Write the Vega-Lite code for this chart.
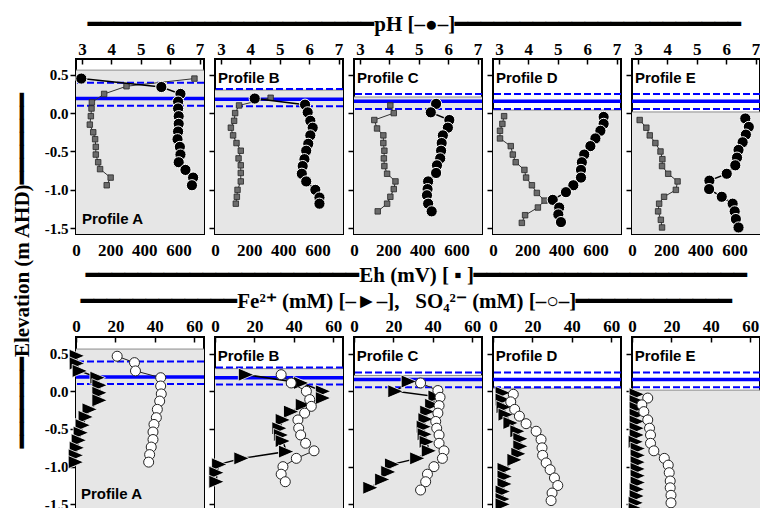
{
"$schema": "https://vega.github.io/schema/vega-lite/v6.json",
"background": "white",
"padding": {"left": 12, "top": 14, "right": 0, "bottom": 0},
"title": {"text": "━━━━━━━Elevation (m AHD)━━━━━━━", "orient": "left", "offset": 10, "dx": 70},
"config": {
  "view": {"stroke": "black", "strokeWidth": 2},
  "axis": {"domain": false, "grid": false, "tickColor": "black", "tickWidth": 1.5, "labelFont": "Liberation Serif", "labelFontWeight": "bold", "labelColor": "black", "labelFlush": false, "labelOverlap": false, "zindex": 1},
  "axisX": {"tickSize": -5, "labelFontSize": 17},
  "axisY": {"tickSize": 6, "labelFontSize": 15, "labelPadding": 2},
  "title": {"font": "Liberation Serif", "fontSize": 21, "fontWeight": "bold", "color": "black"},
  "concat": {"spacing": 11}
},
"datasets": {
  "wt": [
    {"p":"A","gs":0.56,"wt":0.19,"hi":0.395,"lo":0.095,"lab":"Profile A"},
    {"p":"B","gs":0.30,"wt":0.18,"hi":0.315,"lo":0.09,"lab":"Profile B"},
    {"p":"C","gs":0.21,"wt":0.155,"hi":0.25,"lo":0.055,"lab":"Profile C"},
    {"p":"D","gs":0.04,"wt":0.155,"hi":0.25,"lo":0.055,"lab":"Profile D"},
    {"p":"E","gs":0.015,"wt":0.155,"hi":0.25,"lo":0.055,"lab":"Profile E"}
  ],
  "top": [
    {"p":"A","v":"pH","e":0.45,"x":2.98},{"p":"A","v":"pH","e":0.34,"x":5.70},{"p":"A","v":"pH","e":0.25,"x":6.35},{"p":"A","v":"pH","e":0.15,"x":6.27},{"p":"A","v":"pH","e":0.06,"x":6.27},{"p":"A","v":"pH","e":-0.04,"x":6.29},{"p":"A","v":"pH","e":-0.14,"x":6.29},{"p":"A","v":"pH","e":-0.24,"x":6.27},{"p":"A","v":"pH","e":-0.34,"x":6.25},{"p":"A","v":"pH","e":-0.44,"x":6.33},{"p":"A","v":"pH","e":-0.54,"x":6.35},{"p":"A","v":"pH","e":-0.64,"x":6.29},{"p":"A","v":"pH","e":-0.74,"x":6.52},{"p":"A","v":"pH","e":-0.84,"x":6.78},{"p":"A","v":"pH","e":-0.94,"x":6.74},
    {"p":"A","v":"Eh","e":0.45,"x":694},{"p":"A","v":"Eh","e":0.35,"x":296},{"p":"A","v":"Eh","e":0.25,"x":165},{"p":"A","v":"Eh","e":0.14,"x":93},{"p":"A","v":"Eh","e":0.06,"x":91},{"p":"A","v":"Eh","e":-0.04,"x":87},{"p":"A","v":"Eh","e":-0.15,"x":81},{"p":"A","v":"Eh","e":-0.25,"x":101},{"p":"A","v":"Eh","e":-0.34,"x":112},{"p":"A","v":"Eh","e":-0.44,"x":116},{"p":"A","v":"Eh","e":-0.54,"x":116},{"p":"A","v":"Eh","e":-0.64,"x":130},{"p":"A","v":"Eh","e":-0.73,"x":141},{"p":"A","v":"Eh","e":-0.84,"x":203},{"p":"A","v":"Eh","e":-0.94,"x":180},
    {"p":"B","v":"pH","e":0.19,"x":4.15},{"p":"B","v":"pH","e":0.11,"x":5.86},{"p":"B","v":"pH","e":0.01,"x":5.95},{"p":"B","v":"pH","e":-0.10,"x":6.04},{"p":"B","v":"pH","e":-0.19,"x":6.12},{"p":"B","v":"pH","e":-0.29,"x":6.04},{"p":"B","v":"pH","e":-0.40,"x":5.97},{"p":"B","v":"pH","e":-0.49,"x":5.90},{"p":"B","v":"pH","e":-0.60,"x":5.84},{"p":"B","v":"pH","e":-0.69,"x":5.78},{"p":"B","v":"pH","e":-0.79,"x":5.75},{"p":"B","v":"pH","e":-0.89,"x":5.90},{"p":"B","v":"pH","e":-1.00,"x":6.21},{"p":"B","v":"pH","e":-1.10,"x":6.35},{"p":"B","v":"pH","e":-1.18,"x":6.35},
    {"p":"B","v":"Eh","e":0.20,"x":326},{"p":"B","v":"Eh","e":0.10,"x":141},{"p":"B","v":"Eh","e":0.00,"x":118},{"p":"B","v":"Eh","e":-0.10,"x":112},{"p":"B","v":"Eh","e":-0.19,"x":93},{"p":"B","v":"Eh","e":-0.29,"x":106},{"p":"B","v":"Eh","e":-0.39,"x":126},{"p":"B","v":"Eh","e":-0.49,"x":151},{"p":"B","v":"Eh","e":-0.59,"x":138},{"p":"B","v":"Eh","e":-0.68,"x":151},{"p":"B","v":"Eh","e":-0.78,"x":151},{"p":"B","v":"Eh","e":-0.89,"x":151},{"p":"B","v":"Eh","e":-1.00,"x":132},{"p":"B","v":"Eh","e":-1.09,"x":128},{"p":"B","v":"Eh","e":-1.18,"x":122},
    {"p":"C","v":"pH","e":0.12,"x":5.59},{"p":"C","v":"pH","e":0.01,"x":5.41},{"p":"C","v":"pH","e":-0.09,"x":6.04},{"p":"C","v":"pH","e":-0.19,"x":5.99},{"p":"C","v":"pH","e":-0.29,"x":5.82},{"p":"C","v":"pH","e":-0.39,"x":5.78},{"p":"C","v":"pH","e":-0.49,"x":5.76},{"p":"C","v":"pH","e":-0.59,"x":5.73},{"p":"C","v":"pH","e":-0.68,"x":5.62},{"p":"C","v":"pH","e":-0.78,"x":5.59},{"p":"C","v":"pH","e":-0.89,"x":5.32},{"p":"C","v":"pH","e":-0.99,"x":5.30},{"p":"C","v":"pH","e":-1.07,"x":5.28},{"p":"C","v":"pH","e":-1.18,"x":5.32},{"p":"C","v":"pH","e":-1.28,"x":5.44},
    {"p":"C","v":"Eh","e":0.10,"x":213},{"p":"C","v":"Eh","e":0.00,"x":233},{"p":"C","v":"Eh","e":-0.09,"x":119},{"p":"C","v":"Eh","e":-0.20,"x":135},{"p":"C","v":"Eh","e":-0.29,"x":172},{"p":"C","v":"Eh","e":-0.39,"x":172},{"p":"C","v":"Eh","e":-0.49,"x":178},{"p":"C","v":"Eh","e":-0.59,"x":175},{"p":"C","v":"Eh","e":-0.69,"x":178},{"p":"C","v":"Eh","e":-0.79,"x":194},{"p":"C","v":"Eh","e":-0.89,"x":243},{"p":"C","v":"Eh","e":-0.99,"x":233},{"p":"C","v":"Eh","e":-1.09,"x":213},{"p":"C","v":"Eh","e":-1.18,"x":194},{"p":"C","v":"Eh","e":-1.28,"x":139},
    {"p":"D","v":"pH","e":-0.05,"x":6.56},{"p":"D","v":"pH","e":-0.14,"x":6.56},{"p":"D","v":"pH","e":-0.23,"x":6.45},{"p":"D","v":"pH","e":-0.33,"x":6.28},{"p":"D","v":"pH","e":-0.43,"x":6.11},{"p":"D","v":"pH","e":-0.54,"x":5.90},{"p":"D","v":"pH","e":-0.64,"x":5.82},{"p":"D","v":"pH","e":-0.74,"x":5.79},{"p":"D","v":"pH","e":-0.84,"x":5.79},{"p":"D","v":"pH","e":-0.94,"x":5.53},{"p":"D","v":"pH","e":-1.03,"x":5.28},{"p":"D","v":"pH","e":-1.13,"x":4.83},{"p":"D","v":"pH","e":-1.23,"x":5.05},{"p":"D","v":"pH","e":-1.32,"x":5.02},{"p":"D","v":"pH","e":-1.42,"x":5.11},
    {"p":"D","v":"Eh","e":-0.04,"x":65},{"p":"D","v":"Eh","e":-0.14,"x":55},{"p":"D","v":"Eh","e":-0.23,"x":41},{"p":"D","v":"Eh","e":-0.33,"x":41},{"p":"D","v":"Eh","e":-0.43,"x":104},{"p":"D","v":"Eh","e":-0.54,"x":116},{"p":"D","v":"Eh","e":-0.64,"x":133},{"p":"D","v":"Eh","e":-0.74,"x":184},{"p":"D","v":"Eh","e":-0.84,"x":194},{"p":"D","v":"Eh","e":-0.94,"x":228},{"p":"D","v":"Eh","e":-1.04,"x":257},{"p":"D","v":"Eh","e":-1.14,"x":302},{"p":"D","v":"Eh","e":-1.23,"x":263},{"p":"D","v":"Eh","e":-1.33,"x":188},{"p":"D","v":"Eh","e":-1.43,"x":169},
    {"p":"E","v":"pH","e":-0.07,"x":6.65},{"p":"E","v":"pH","e":-0.18,"x":6.77},{"p":"E","v":"pH","e":-0.28,"x":6.67},{"p":"E","v":"pH","e":-0.38,"x":6.56},{"p":"E","v":"pH","e":-0.48,"x":6.42},{"p":"E","v":"pH","e":-0.58,"x":6.37},{"p":"E","v":"pH","e":-0.68,"x":6.31},{"p":"E","v":"pH","e":-0.79,"x":6.02},{"p":"E","v":"pH","e":-0.88,"x":5.43},{"p":"E","v":"pH","e":-0.99,"x":5.42},{"p":"E","v":"pH","e":-1.09,"x":5.85},{"p":"E","v":"pH","e":-1.18,"x":6.22},{"p":"E","v":"pH","e":-1.28,"x":6.29},{"p":"E","v":"pH","e":-1.38,"x":6.33},{"p":"E","v":"pH","e":-1.49,"x":6.42},
    {"p":"E","v":"Eh","e":-0.09,"x":45},{"p":"E","v":"Eh","e":-0.19,"x":84},{"p":"E","v":"Eh","e":-0.29,"x":104},{"p":"E","v":"Eh","e":-0.39,"x":137},{"p":"E","v":"Eh","e":-0.50,"x":167},{"p":"E","v":"Eh","e":-0.60,"x":178},{"p":"E","v":"Eh","e":-0.69,"x":176},{"p":"E","v":"Eh","e":-0.79,"x":212},{"p":"E","v":"Eh","e":-0.89,"x":267},{"p":"E","v":"Eh","e":-1.00,"x":257},{"p":"E","v":"Eh","e":-1.09,"x":188},{"p":"E","v":"Eh","e":-1.18,"x":159},{"p":"E","v":"Eh","e":-1.28,"x":153},{"p":"E","v":"Eh","e":-1.39,"x":169},{"p":"E","v":"Eh","e":-1.49,"x":176}
  ],
  "bot": [
    {"p":"A","v":"Fe","e":0.47,"x":0.5},{"p":"A","v":"Fe","e":0.37,"x":0.5},{"p":"A","v":"Fe","e":0.27,"x":2},{"p":"A","v":"Fe","e":0.18,"x":11},{"p":"A","v":"Fe","e":0.08,"x":12},{"p":"A","v":"Fe","e":-0.02,"x":12},{"p":"A","v":"Fe","e":-0.12,"x":12},{"p":"A","v":"Fe","e":-0.24,"x":7},{"p":"A","v":"Fe","e":-0.34,"x":5},{"p":"A","v":"Fe","e":-0.45,"x":3.5},{"p":"A","v":"Fe","e":-0.55,"x":2.5},{"p":"A","v":"Fe","e":-0.65,"x":1.5},{"p":"A","v":"Fe","e":-0.75,"x":0.5},{"p":"A","v":"Fe","e":-0.85,"x":0},{"p":"A","v":"Fe","e":-0.94,"x":0},
    {"p":"A","v":"SO4","e":0.465,"x":20.9},{"p":"A","v":"SO4","e":0.38,"x":29.7},{"p":"A","v":"SO4","e":0.27,"x":30.2},{"p":"A","v":"SO4","e":0.18,"x":43},{"p":"A","v":"SO4","e":0.07,"x":43},{"p":"A","v":"SO4","e":-0.035,"x":43.3},{"p":"A","v":"SO4","e":-0.13,"x":42.5},{"p":"A","v":"SO4","e":-0.24,"x":41.3},{"p":"A","v":"SO4","e":-0.35,"x":40.8},{"p":"A","v":"SO4","e":-0.44,"x":39.6},{"p":"A","v":"SO4","e":-0.54,"x":39.1},{"p":"A","v":"SO4","e":-0.64,"x":39.1},{"p":"A","v":"SO4","e":-0.74,"x":38.2},{"p":"A","v":"SO4","e":-0.84,"x":37.4},{"p":"A","v":"SO4","e":-0.94,"x":36.9},
    {"p":"B","v":"Fe","e":0.22,"x":15.8},{"p":"B","v":"Fe","e":0.11,"x":43.8},{"p":"B","v":"Fe","e":0.00,"x":54.9},{"p":"B","v":"Fe","e":-0.09,"x":54.9},{"p":"B","v":"Fe","e":-0.18,"x":44.7},{"p":"B","v":"Fe","e":-0.27,"x":38.7},{"p":"B","v":"Fe","e":-0.38,"x":34.5},{"p":"B","v":"Fe","e":-0.49,"x":32.8},{"p":"B","v":"Fe","e":-0.58,"x":33.6},{"p":"B","v":"Fe","e":-0.66,"x":34.5},{"p":"B","v":"Fe","e":-0.80,"x":36.2},{"p":"B","v":"Fe","e":-0.89,"x":13.5},{"p":"B","v":"Fe","e":-0.97,"x":2.2},{"p":"B","v":"Fe","e":-1.08,"x":0.8},{"p":"B","v":"Fe","e":-1.20,"x":0.8},
    {"p":"B","v":"SO4","e":0.22,"x":33.6},{"p":"B","v":"SO4","e":0.11,"x":38.7},{"p":"B","v":"SO4","e":0.00,"x":46.4},{"p":"B","v":"SO4","e":-0.11,"x":48.1},{"p":"B","v":"SO4","e":-0.20,"x":48.9},{"p":"B","v":"SO4","e":-0.29,"x":45.5},{"p":"B","v":"SO4","e":-0.38,"x":42.1},{"p":"B","v":"SO4","e":-0.49,"x":42.5},{"p":"B","v":"SO4","e":-0.58,"x":43.5},{"p":"B","v":"SO4","e":-0.69,"x":46.0},{"p":"B","v":"SO4","e":-0.79,"x":50.3},{"p":"B","v":"SO4","e":-0.89,"x":41.3},{"p":"B","v":"SO4","e":-1.00,"x":34.5},{"p":"B","v":"SO4","e":-1.10,"x":33.6},{"p":"B","v":"SO4","e":-1.20,"x":35.7},
    {"p":"C","v":"Fe","e":0.13,"x":27.9},{"p":"C","v":"Fe","e":0.00,"x":21.1},{"p":"C","v":"Fe","e":-0.07,"x":41.5},{"p":"C","v":"Fe","e":-0.18,"x":39.8},{"p":"C","v":"Fe","e":-0.27,"x":37.3},{"p":"C","v":"Fe","e":-0.37,"x":36.4},{"p":"C","v":"Fe","e":-0.47,"x":35.5},{"p":"C","v":"Fe","e":-0.57,"x":36.0},{"p":"C","v":"Fe","e":-0.67,"x":37.0},{"p":"C","v":"Fe","e":-0.79,"x":38.1},{"p":"C","v":"Fe","e":-0.89,"x":32.2},{"p":"C","v":"Fe","e":-0.97,"x":19.4},{"p":"C","v":"Fe","e":-1.07,"x":17.5},{"p":"C","v":"Fe","e":-1.17,"x":14.4},{"p":"C","v":"Fe","e":-1.28,"x":8.4},
    {"p":"C","v":"SO4","e":0.11,"x":33.8},{"p":"C","v":"SO4","e":0.01,"x":42.6},{"p":"C","v":"SO4","e":-0.08,"x":43.7},{"p":"C","v":"SO4","e":-0.19,"x":43.2},{"p":"C","v":"SO4","e":-0.29,"x":42.6},{"p":"C","v":"SO4","e":-0.40,"x":41.5},{"p":"C","v":"SO4","e":-0.49,"x":42.0},{"p":"C","v":"SO4","e":-0.58,"x":43.2},{"p":"C","v":"SO4","e":-0.69,"x":43.2},{"p":"C","v":"SO4","e":-0.79,"x":45.7},{"p":"C","v":"SO4","e":-0.89,"x":44.9},{"p":"C","v":"SO4","e":-1.00,"x":40.6},{"p":"C","v":"SO4","e":-1.10,"x":37.3},{"p":"C","v":"SO4","e":-1.20,"x":36.4},{"p":"C","v":"SO4","e":-1.31,"x":33.8},
    {"p":"D","v":"Fe","e":-0.02,"x":5},{"p":"D","v":"Fe","e":-0.11,"x":5},{"p":"D","v":"Fe","e":-0.21,"x":5.5},{"p":"D","v":"Fe","e":-0.31,"x":6.5},{"p":"D","v":"Fe","e":-0.42,"x":9},{"p":"D","v":"Fe","e":-0.53,"x":12.5},{"p":"D","v":"Fe","e":-0.63,"x":14},{"p":"D","v":"Fe","e":-0.73,"x":14},{"p":"D","v":"Fe","e":-0.83,"x":13},{"p":"D","v":"Fe","e":-0.91,"x":11},{"p":"D","v":"Fe","e":-1.03,"x":6},{"p":"D","v":"Fe","e":-1.13,"x":6},{"p":"D","v":"Fe","e":-1.23,"x":6},{"p":"D","v":"Fe","e":-1.33,"x":5},{"p":"D","v":"Fe","e":-1.43,"x":5},{"p":"D","v":"Fe","e":-1.50,"x":5},
    {"p":"D","v":"SO4","e":-0.04,"x":10.3},{"p":"D","v":"SO4","e":-0.14,"x":9},{"p":"D","v":"SO4","e":-0.24,"x":11},{"p":"D","v":"SO4","e":-0.33,"x":13.4},{"p":"D","v":"SO4","e":-0.43,"x":16.8},{"p":"D","v":"SO4","e":-0.53,"x":21.9},{"p":"D","v":"SO4","e":-0.64,"x":24.4},{"p":"D","v":"SO4","e":-0.75,"x":24.9},{"p":"D","v":"SO4","e":-0.85,"x":25.2},{"p":"D","v":"SO4","e":-0.95,"x":27.0},{"p":"D","v":"SO4","e":-1.04,"x":29.0},{"p":"D","v":"SO4","e":-1.15,"x":31.2},{"p":"D","v":"SO4","e":-1.25,"x":32.9},{"p":"D","v":"SO4","e":-1.35,"x":30.0},{"p":"D","v":"SO4","e":-1.45,"x":29.5},
    {"p":"E","v":"Fe","e":-0.04,"x":2.5},{"p":"E","v":"Fe","e":-0.13,"x":2.5},{"p":"E","v":"Fe","e":-0.22,"x":2.5},{"p":"E","v":"Fe","e":-0.31,"x":2.5},{"p":"E","v":"Fe","e":-0.40,"x":2.5},{"p":"E","v":"Fe","e":-0.49,"x":2.5},{"p":"E","v":"Fe","e":-0.58,"x":2.5},{"p":"E","v":"Fe","e":-0.67,"x":2},{"p":"E","v":"Fe","e":-0.76,"x":3},{"p":"E","v":"Fe","e":-0.85,"x":3},{"p":"E","v":"Fe","e":-0.94,"x":3},{"p":"E","v":"Fe","e":-1.03,"x":3},{"p":"E","v":"Fe","e":-1.12,"x":3},{"p":"E","v":"Fe","e":-1.21,"x":3},{"p":"E","v":"Fe","e":-1.30,"x":2.5},{"p":"E","v":"Fe","e":-1.39,"x":2.5},{"p":"E","v":"Fe","e":-1.48,"x":2},{"p":"E","v":"Fe","e":-1.56,"x":2},
    {"p":"E","v":"SO4","e":-0.09,"x":8.0},{"p":"E","v":"SO4","e":-0.18,"x":5},{"p":"E","v":"SO4","e":-0.27,"x":6.0},{"p":"E","v":"SO4","e":-0.38,"x":8.0},{"p":"E","v":"SO4","e":-0.49,"x":8.9},{"p":"E","v":"SO4","e":-0.58,"x":9.4},{"p":"E","v":"SO4","e":-0.69,"x":9.4},{"p":"E","v":"SO4","e":-0.79,"x":11.1},{"p":"E","v":"SO4","e":-0.89,"x":16.4},{"p":"E","v":"SO4","e":-0.98,"x":18.4},{"p":"E","v":"SO4","e":-1.08,"x":18.9},{"p":"E","v":"SO4","e":-1.19,"x":19.4},{"p":"E","v":"SO4","e":-1.28,"x":19.4},{"p":"E","v":"SO4","e":-1.38,"x":19.8},{"p":"E","v":"SO4","e":-1.48,"x":19.8}
  ]
},
"spacing": 5,
"vconcat": [
 {"title": {"text": "━━━━━━━━━━━━━━━━━━━━━━pH [–●–]━━━━━━━━━━━━━━━━━━━━━━", "offset": 4, "dx": 45},
  "vconcat": [
  {"title": {"text": "━━━━━━━━━━━━━━━━━━━━━Eh (mV) [ ▪ ]━━━━━━━━━━━━━━━━━━━━━", "orient": "bottom", "offset": 6, "dx": 43},
   "bounds": "flush", "spacing": 11,
   "hconcat": [
    {"width": 128, "height": 175, "resolve": {"scale": {"x": "independent"}},
     "layer": [
      {"data": {"name": "wt"}, "transform": [{"filter": "datum.p == 'A'"}], "layer": [
        {"mark": {"type": "rect", "fill": "#e6e6e6", "clip": true}, "encoding": {"y": {"field": "gs", "type": "quantitative", "scale": {"domain": [-1.575, 0.705], "nice": false, "zero": false}, "axis": {"values": [0.5, 0, -0.5, -1, -1.5], "title": null, "labelExpr": "replace(datum.label, '\u2212', '-')"}}, "y2": {"datum": -3}}},
        {"mark": {"type": "rule", "stroke": "#8c8c8c", "strokeWidth": 1}, "encoding": {"y": {"field": "gs", "type": "quantitative"}}},
        {"mark": {"type": "rule", "stroke": "#0000ff", "strokeWidth": 2, "strokeDash": [7, 3]}, "encoding": {"y": {"field": "hi", "type": "quantitative"}}},
        {"mark": {"type": "rule", "stroke": "#0000ff", "strokeWidth": 2, "strokeDash": [7, 3]}, "encoding": {"y": {"field": "lo", "type": "quantitative"}}},
        {"mark": {"type": "rule", "stroke": "#0000ff", "strokeWidth": 3.5}, "encoding": {"y": {"field": "wt", "type": "quantitative"}}},
        {"mark": {"type": "text", "font": "Liberation Sans", "fontWeight": "bold", "fontSize": 15, "align": "left", "baseline": "alphabetic", "color": "black"}, "encoding": {"text": {"field": "lab"}, "x": {"datum": 3.0, "type": "quantitative", "scale": {"domain": [2.8, 7.15], "nice": false, "zero": false}, "axis": null}, "y": {"datum": -1.45, "type": "quantitative"}}}
      ]},
      {"data": {"name": "top"}, "transform": [{"filter": "datum.p == 'A' && datum.v == 'Eh'"}],
       "mark": {"type": "line", "color": "#333333", "strokeWidth": 1, "point": {"shape": "square", "filled": true, "size": 30, "fill": "#6b6b6b", "stroke": "#262626", "strokeWidth": 0.8, "opacity": 1}},
       "encoding": {"x": {"field": "x", "type": "quantitative", "scale": {"domain": [0, 750], "nice": false, "zero": false}, "axis": {"orient": "bottom", "values": [0, 200, 400, 600], "title": null, "labelPadding": 13}}, "y": {"field": "e", "type": "quantitative"}, "order": {"field": "e", "sort": "descending"}}},
      {"data": {"name": "top"}, "transform": [{"filter": "datum.p == 'A' && datum.v == 'pH'"}],
       "mark": {"type": "line", "color": "black", "strokeWidth": 1.5, "point": {"filled": true, "size": 125, "fill": "black", "stroke": "white", "strokeWidth": 1, "opacity": 1}},
       "encoding": {"x": {"field": "x", "type": "quantitative", "scale": {"domain": [2.8, 7.15], "nice": false, "zero": false}, "axis": {"orient": "top", "values": [3, 4, 5, 6, 7], "title": null, "labelPadding": 6}}, "y": {"field": "e", "type": "quantitative"}, "order": {"field": "e", "sort": "descending"}}}
     ]},
    {"width": 128, "height": 175, "resolve": {"scale": {"x": "independent"}},
     "layer": [
      {"data": {"name": "wt"}, "transform": [{"filter": "datum.p == 'B'"}], "layer": [
        {"mark": {"type": "rect", "fill": "#e6e6e6", "clip": true}, "encoding": {"y": {"field": "gs", "type": "quantitative", "scale": {"domain": [-1.575, 0.705], "nice": false, "zero": false}, "axis": {"values": [0.5, 0, -0.5, -1, -1.5], "title": null, "labels": false}}, "y2": {"datum": -3}}},
        {"mark": {"type": "rule", "stroke": "#8c8c8c", "strokeWidth": 1}, "encoding": {"y": {"field": "gs", "type": "quantitative"}}},
        {"mark": {"type": "rule", "stroke": "#0000ff", "strokeWidth": 2, "strokeDash": [7, 3]}, "encoding": {"y": {"field": "hi", "type": "quantitative"}}},
        {"mark": {"type": "rule", "stroke": "#0000ff", "strokeWidth": 2, "strokeDash": [7, 3]}, "encoding": {"y": {"field": "lo", "type": "quantitative"}}},
        {"mark": {"type": "rule", "stroke": "#0000ff", "strokeWidth": 3.5}, "encoding": {"y": {"field": "wt", "type": "quantitative"}}},
        {"mark": {"type": "text", "font": "Liberation Sans", "fontWeight": "bold", "fontSize": 15, "align": "left", "baseline": "alphabetic", "color": "black"}, "encoding": {"text": {"field": "lab"}, "x": {"datum": 2.9, "type": "quantitative", "scale": {"domain": [2.8, 7.15], "nice": false, "zero": false}, "axis": null}, "y": {"datum": 0.39, "type": "quantitative"}}}
      ]},
      {"data": {"name": "top"}, "transform": [{"filter": "datum.p == 'B' && datum.v == 'Eh'"}],
       "mark": {"type": "line", "color": "#333333", "strokeWidth": 1, "point": {"shape": "square", "filled": true, "size": 30, "fill": "#6b6b6b", "stroke": "#262626", "strokeWidth": 0.8, "opacity": 1}},
       "encoding": {"x": {"field": "x", "type": "quantitative", "scale": {"domain": [0, 750], "nice": false, "zero": false}, "axis": {"orient": "bottom", "values": [0, 200, 400, 600], "title": null, "labelPadding": 13}}, "y": {"field": "e", "type": "quantitative"}, "order": {"field": "e", "sort": "descending"}}},
      {"data": {"name": "top"}, "transform": [{"filter": "datum.p == 'B' && datum.v == 'pH'"}],
       "mark": {"type": "line", "color": "black", "strokeWidth": 1.5, "point": {"filled": true, "size": 125, "fill": "black", "stroke": "white", "strokeWidth": 1, "opacity": 1}},
       "encoding": {"x": {"field": "x", "type": "quantitative", "scale": {"domain": [2.8, 7.15], "nice": false, "zero": false}, "axis": {"orient": "top", "values": [3, 4, 5, 6, 7], "title": null, "labelPadding": 6}}, "y": {"field": "e", "type": "quantitative"}, "order": {"field": "e", "sort": "descending"}}}
     ]},
    {"width": 128, "height": 175, "resolve": {"scale": {"x": "independent"}},
     "layer": [
      {"data": {"name": "wt"}, "transform": [{"filter": "datum.p == 'C'"}], "layer": [
        {"mark": {"type": "rect", "fill": "#e6e6e6", "clip": true}, "encoding": {"y": {"field": "gs", "type": "quantitative", "scale": {"domain": [-1.575, 0.705], "nice": false, "zero": false}, "axis": {"values": [0.5, 0, -0.5, -1, -1.5], "title": null, "labels": false}}, "y2": {"datum": -3}}},
        {"mark": {"type": "rule", "stroke": "#8c8c8c", "strokeWidth": 1}, "encoding": {"y": {"field": "gs", "type": "quantitative"}}},
        {"mark": {"type": "rule", "stroke": "#0000ff", "strokeWidth": 2, "strokeDash": [7, 3]}, "encoding": {"y": {"field": "hi", "type": "quantitative"}}},
        {"mark": {"type": "rule", "stroke": "#0000ff", "strokeWidth": 2, "strokeDash": [7, 3]}, "encoding": {"y": {"field": "lo", "type": "quantitative"}}},
        {"mark": {"type": "rule", "stroke": "#0000ff", "strokeWidth": 3.5}, "encoding": {"y": {"field": "wt", "type": "quantitative"}}},
        {"mark": {"type": "text", "font": "Liberation Sans", "fontWeight": "bold", "fontSize": 15, "align": "left", "baseline": "alphabetic", "color": "black"}, "encoding": {"text": {"field": "lab"}, "x": {"datum": 2.9, "type": "quantitative", "scale": {"domain": [2.8, 7.15], "nice": false, "zero": false}, "axis": null}, "y": {"datum": 0.39, "type": "quantitative"}}}
      ]},
      {"data": {"name": "top"}, "transform": [{"filter": "datum.p == 'C' && datum.v == 'Eh'"}],
       "mark": {"type": "line", "color": "#333333", "strokeWidth": 1, "point": {"shape": "square", "filled": true, "size": 30, "fill": "#6b6b6b", "stroke": "#262626", "strokeWidth": 0.8, "opacity": 1}},
       "encoding": {"x": {"field": "x", "type": "quantitative", "scale": {"domain": [0, 750], "nice": false, "zero": false}, "axis": {"orient": "bottom", "values": [0, 200, 400, 600], "title": null, "labelPadding": 13}}, "y": {"field": "e", "type": "quantitative"}, "order": {"field": "e", "sort": "descending"}}},
      {"data": {"name": "top"}, "transform": [{"filter": "datum.p == 'C' && datum.v == 'pH'"}],
       "mark": {"type": "line", "color": "black", "strokeWidth": 1.5, "point": {"filled": true, "size": 125, "fill": "black", "stroke": "white", "strokeWidth": 1, "opacity": 1}},
       "encoding": {"x": {"field": "x", "type": "quantitative", "scale": {"domain": [2.8, 7.15], "nice": false, "zero": false}, "axis": {"orient": "top", "values": [3, 4, 5, 6, 7], "title": null, "labelPadding": 6}}, "y": {"field": "e", "type": "quantitative"}, "order": {"field": "e", "sort": "descending"}}}
     ]},
    {"width": 128, "height": 175, "resolve": {"scale": {"x": "independent"}},
     "layer": [
      {"data": {"name": "wt"}, "transform": [{"filter": "datum.p == 'D'"}], "layer": [
        {"mark": {"type": "rect", "fill": "#e6e6e6", "clip": true}, "encoding": {"y": {"field": "gs", "type": "quantitative", "scale": {"domain": [-1.575, 0.705], "nice": false, "zero": false}, "axis": {"values": [0.5, 0, -0.5, -1, -1.5], "title": null, "labels": false}}, "y2": {"datum": -3}}},
        {"mark": {"type": "rule", "stroke": "#8c8c8c", "strokeWidth": 1}, "encoding": {"y": {"field": "gs", "type": "quantitative"}}},
        {"mark": {"type": "rule", "stroke": "#0000ff", "strokeWidth": 2, "strokeDash": [7, 3]}, "encoding": {"y": {"field": "hi", "type": "quantitative"}}},
        {"mark": {"type": "rule", "stroke": "#0000ff", "strokeWidth": 2, "strokeDash": [7, 3]}, "encoding": {"y": {"field": "lo", "type": "quantitative"}}},
        {"mark": {"type": "rule", "stroke": "#0000ff", "strokeWidth": 3.5}, "encoding": {"y": {"field": "wt", "type": "quantitative"}}},
        {"mark": {"type": "text", "font": "Liberation Sans", "fontWeight": "bold", "fontSize": 15, "align": "left", "baseline": "alphabetic", "color": "black"}, "encoding": {"text": {"field": "lab"}, "x": {"datum": 2.9, "type": "quantitative", "scale": {"domain": [2.8, 7.15], "nice": false, "zero": false}, "axis": null}, "y": {"datum": 0.39, "type": "quantitative"}}}
      ]},
      {"data": {"name": "top"}, "transform": [{"filter": "datum.p == 'D' && datum.v == 'Eh'"}],
       "mark": {"type": "line", "color": "#333333", "strokeWidth": 1, "point": {"shape": "square", "filled": true, "size": 30, "fill": "#6b6b6b", "stroke": "#262626", "strokeWidth": 0.8, "opacity": 1}},
       "encoding": {"x": {"field": "x", "type": "quantitative", "scale": {"domain": [0, 750], "nice": false, "zero": false}, "axis": {"orient": "bottom", "values": [0, 200, 400, 600], "title": null, "labelPadding": 13}}, "y": {"field": "e", "type": "quantitative"}, "order": {"field": "e", "sort": "descending"}}},
      {"data": {"name": "top"}, "transform": [{"filter": "datum.p == 'D' && datum.v == 'pH'"}],
       "mark": {"type": "line", "color": "black", "strokeWidth": 1.5, "point": {"filled": true, "size": 125, "fill": "black", "stroke": "white", "strokeWidth": 1, "opacity": 1}},
       "encoding": {"x": {"field": "x", "type": "quantitative", "scale": {"domain": [2.8, 7.15], "nice": false, "zero": false}, "axis": {"orient": "top", "values": [3, 4, 5, 6, 7], "title": null, "labelPadding": 6}}, "y": {"field": "e", "type": "quantitative"}, "order": {"field": "e", "sort": "descending"}}}
     ]},
    {"width": 128, "height": 175, "resolve": {"scale": {"x": "independent"}},
     "layer": [
      {"data": {"name": "wt"}, "transform": [{"filter": "datum.p == 'E'"}], "layer": [
        {"mark": {"type": "rect", "fill": "#e6e6e6", "clip": true}, "encoding": {"y": {"field": "gs", "type": "quantitative", "scale": {"domain": [-1.575, 0.705], "nice": false, "zero": false}, "axis": {"values": [0.5, 0, -0.5, -1, -1.5], "title": null, "labels": false}}, "y2": {"datum": -3}}},
        {"mark": {"type": "rule", "stroke": "#8c8c8c", "strokeWidth": 1}, "encoding": {"y": {"field": "gs", "type": "quantitative"}}},
        {"mark": {"type": "rule", "stroke": "#0000ff", "strokeWidth": 2, "strokeDash": [7, 3]}, "encoding": {"y": {"field": "hi", "type": "quantitative"}}},
        {"mark": {"type": "rule", "stroke": "#0000ff", "strokeWidth": 2, "strokeDash": [7, 3]}, "encoding": {"y": {"field": "lo", "type": "quantitative"}}},
        {"mark": {"type": "rule", "stroke": "#0000ff", "strokeWidth": 3.5}, "encoding": {"y": {"field": "wt", "type": "quantitative"}}},
        {"mark": {"type": "text", "font": "Liberation Sans", "fontWeight": "bold", "fontSize": 15, "align": "left", "baseline": "alphabetic", "color": "black"}, "encoding": {"text": {"field": "lab"}, "x": {"datum": 2.9, "type": "quantitative", "scale": {"domain": [2.8, 7.15], "nice": false, "zero": false}, "axis": null}, "y": {"datum": 0.39, "type": "quantitative"}}}
      ]},
      {"data": {"name": "top"}, "transform": [{"filter": "datum.p == 'E' && datum.v == 'Eh'"}],
       "mark": {"type": "line", "color": "#333333", "strokeWidth": 1, "point": {"shape": "square", "filled": true, "size": 30, "fill": "#6b6b6b", "stroke": "#262626", "strokeWidth": 0.8, "opacity": 1}},
       "encoding": {"x": {"field": "x", "type": "quantitative", "scale": {"domain": [0, 750], "nice": false, "zero": false}, "axis": {"orient": "bottom", "values": [0, 200, 400, 600], "title": null, "labelPadding": 13}}, "y": {"field": "e", "type": "quantitative"}, "order": {"field": "e", "sort": "descending"}}},
      {"data": {"name": "top"}, "transform": [{"filter": "datum.p == 'E' && datum.v == 'pH'"}],
       "mark": {"type": "line", "color": "black", "strokeWidth": 1.5, "point": {"filled": true, "size": 125, "fill": "black", "stroke": "white", "strokeWidth": 1, "opacity": 1}},
       "encoding": {"x": {"field": "x", "type": "quantitative", "scale": {"domain": [2.8, 7.15], "nice": false, "zero": false}, "axis": {"orient": "top", "values": [3, 4, 5, 6, 7], "title": null, "labelPadding": 6}}, "y": {"field": "e", "type": "quantitative"}, "order": {"field": "e", "sort": "descending"}}}
     ]}
   ]}
  ]},
 {"title": {"text": "━━━━━━━━━━━━Fe²⁺ (mM) [–►–],\u00a0\u00a0 SO₄²⁻ (mM) [–○–]━━━━━━━━━━━━", "offset": 4, "dx": 38},
  "bounds": "flush", "spacing": 11,
  "hconcat": [
    {"width": 128, "height": 173, "resolve": {"axis": {"x": "independent"}},
     "layer": [
      {"data": {"name": "wt"}, "transform": [{"filter": "datum.p == 'A'"}], "layer": [
        {"mark": {"type": "rect", "fill": "#e6e6e6", "clip": true}, "encoding": {"y": {"field": "gs", "type": "quantitative", "scale": {"domain": [-1.575, 0.72], "nice": false, "zero": false}, "axis": {"values": [0.5, 0, -0.5, -1, -1.5], "title": null, "labelExpr": "replace(datum.label, '\u2212', '-')"}}, "y2": {"datum": -3}}},
        {"mark": {"type": "rule", "stroke": "#8c8c8c", "strokeWidth": 1}, "encoding": {"y": {"field": "gs", "type": "quantitative"}}},
        {"mark": {"type": "rule", "stroke": "#0000ff", "strokeWidth": 2, "strokeDash": [7, 3]}, "encoding": {"y": {"field": "hi", "type": "quantitative"}}},
        {"mark": {"type": "rule", "stroke": "#0000ff", "strokeWidth": 2, "strokeDash": [7, 3]}, "encoding": {"y": {"field": "lo", "type": "quantitative"}}},
        {"mark": {"type": "rule", "stroke": "#0000ff", "strokeWidth": 3.5}, "encoding": {"y": {"field": "wt", "type": "quantitative"}}}
      ]},
      {"data": {"name": "bot"}, "transform": [{"filter": "datum.p == 'A' && datum.v == 'Fe'"}],
       "mark": {"type": "line", "color": "black", "strokeWidth": 1.5, "point": {"shape": "M1,0L-1,-0.85L-1,0.85Z", "filled": true, "size": 240, "fill": "black", "stroke": "white", "strokeWidth": 0.8, "opacity": 1}},
       "encoding": {"x": {"field": "x", "type": "quantitative", "scale": {"domain": [0, 65], "nice": false, "zero": false}, "axis": {"orient": "top", "values": [0, 20, 40, 60], "title": null, "labelPadding": 7}}, "y": {"field": "e", "type": "quantitative"}, "order": {"field": "e", "sort": "descending"}}},
      {"data": {"name": "bot"}, "transform": [{"filter": "datum.p == 'A' && datum.v == 'SO4'"}],
       "mark": {"type": "line", "color": "#222222", "strokeWidth": 1, "point": {"filled": true, "size": 100, "fill": "white", "stroke": "#222222", "strokeWidth": 1, "opacity": 1}},
       "encoding": {"x": {"field": "x", "type": "quantitative", "scale": {"domain": [0, 65], "nice": false, "zero": false}, "axis": {"orient": "bottom", "values": [0, 20, 40, 60], "title": null, "labels": false}}, "y": {"field": "e", "type": "quantitative"}, "order": {"field": "e", "sort": "descending"}}},
      {"data": {"name": "wt"}, "transform": [{"filter": "datum.p == 'A'"}],
       "mark": {"type": "text", "font": "Liberation Sans", "fontWeight": "bold", "fontSize": 15, "align": "left", "baseline": "alphabetic", "color": "black"}, "encoding": {"text": {"field": "lab"}, "x": {"datum": 2.5, "type": "quantitative", "axis": null}, "y": {"datum": -1.43, "type": "quantitative"}}}
     ]},
    {"width": 128, "height": 173, "resolve": {"axis": {"x": "independent"}},
     "layer": [
      {"data": {"name": "wt"}, "transform": [{"filter": "datum.p == 'B'"}], "layer": [
        {"mark": {"type": "rect", "fill": "#e6e6e6", "clip": true}, "encoding": {"y": {"field": "gs", "type": "quantitative", "scale": {"domain": [-1.575, 0.72], "nice": false, "zero": false}, "axis": {"values": [0.5, 0, -0.5, -1, -1.5], "title": null, "labels": false}}, "y2": {"datum": -3}}},
        {"mark": {"type": "rule", "stroke": "#8c8c8c", "strokeWidth": 1}, "encoding": {"y": {"field": "gs", "type": "quantitative"}}},
        {"mark": {"type": "rule", "stroke": "#0000ff", "strokeWidth": 2, "strokeDash": [7, 3]}, "encoding": {"y": {"field": "hi", "type": "quantitative"}}},
        {"mark": {"type": "rule", "stroke": "#0000ff", "strokeWidth": 2, "strokeDash": [7, 3]}, "encoding": {"y": {"field": "lo", "type": "quantitative"}}},
        {"mark": {"type": "rule", "stroke": "#0000ff", "strokeWidth": 3.5}, "encoding": {"y": {"field": "wt", "type": "quantitative"}}}
      ]},
      {"data": {"name": "bot"}, "transform": [{"filter": "datum.p == 'B' && datum.v == 'Fe'"}],
       "mark": {"type": "line", "color": "black", "strokeWidth": 1.5, "point": {"shape": "M1,0L-1,-0.85L-1,0.85Z", "filled": true, "size": 240, "fill": "black", "stroke": "white", "strokeWidth": 0.8, "opacity": 1}},
       "encoding": {"x": {"field": "x", "type": "quantitative", "scale": {"domain": [0, 65], "nice": false, "zero": false}, "axis": {"orient": "top", "values": [0, 20, 40, 60], "title": null, "labelPadding": 7}}, "y": {"field": "e", "type": "quantitative"}, "order": {"field": "e", "sort": "descending"}}},
      {"data": {"name": "bot"}, "transform": [{"filter": "datum.p == 'B' && datum.v == 'SO4'"}],
       "mark": {"type": "line", "color": "#222222", "strokeWidth": 1, "point": {"filled": true, "size": 100, "fill": "white", "stroke": "#222222", "strokeWidth": 1, "opacity": 1}},
       "encoding": {"x": {"field": "x", "type": "quantitative", "scale": {"domain": [0, 65], "nice": false, "zero": false}, "axis": {"orient": "bottom", "values": [0, 20, 40, 60], "title": null, "labels": false}}, "y": {"field": "e", "type": "quantitative"}, "order": {"field": "e", "sort": "descending"}}},
      {"data": {"name": "wt"}, "transform": [{"filter": "datum.p == 'B'"}],
       "mark": {"type": "text", "font": "Liberation Sans", "fontWeight": "bold", "fontSize": 15, "align": "left", "baseline": "alphabetic", "color": "black"}, "encoding": {"text": {"field": "lab"}, "x": {"datum": 1.4, "type": "quantitative", "axis": null}, "y": {"datum": 0.405, "type": "quantitative"}}}
     ]},
    {"width": 128, "height": 173, "resolve": {"axis": {"x": "independent"}},
     "layer": [
      {"data": {"name": "wt"}, "transform": [{"filter": "datum.p == 'C'"}], "layer": [
        {"mark": {"type": "rect", "fill": "#e6e6e6", "clip": true}, "encoding": {"y": {"field": "gs", "type": "quantitative", "scale": {"domain": [-1.575, 0.72], "nice": false, "zero": false}, "axis": {"values": [0.5, 0, -0.5, -1, -1.5], "title": null, "labels": false}}, "y2": {"datum": -3}}},
        {"mark": {"type": "rule", "stroke": "#8c8c8c", "strokeWidth": 1}, "encoding": {"y": {"field": "gs", "type": "quantitative"}}},
        {"mark": {"type": "rule", "stroke": "#0000ff", "strokeWidth": 2, "strokeDash": [7, 3]}, "encoding": {"y": {"field": "hi", "type": "quantitative"}}},
        {"mark": {"type": "rule", "stroke": "#0000ff", "strokeWidth": 2, "strokeDash": [7, 3]}, "encoding": {"y": {"field": "lo", "type": "quantitative"}}},
        {"mark": {"type": "rule", "stroke": "#0000ff", "strokeWidth": 3.5}, "encoding": {"y": {"field": "wt", "type": "quantitative"}}}
      ]},
      {"data": {"name": "bot"}, "transform": [{"filter": "datum.p == 'C' && datum.v == 'Fe'"}],
       "mark": {"type": "line", "color": "black", "strokeWidth": 1.5, "point": {"shape": "M1,0L-1,-0.85L-1,0.85Z", "filled": true, "size": 240, "fill": "black", "stroke": "white", "strokeWidth": 0.8, "opacity": 1}},
       "encoding": {"x": {"field": "x", "type": "quantitative", "scale": {"domain": [0, 65], "nice": false, "zero": false}, "axis": {"orient": "top", "values": [0, 20, 40, 60], "title": null, "labelPadding": 7}}, "y": {"field": "e", "type": "quantitative"}, "order": {"field": "e", "sort": "descending"}}},
      {"data": {"name": "bot"}, "transform": [{"filter": "datum.p == 'C' && datum.v == 'SO4'"}],
       "mark": {"type": "line", "color": "#222222", "strokeWidth": 1, "point": {"filled": true, "size": 100, "fill": "white", "stroke": "#222222", "strokeWidth": 1, "opacity": 1}},
       "encoding": {"x": {"field": "x", "type": "quantitative", "scale": {"domain": [0, 65], "nice": false, "zero": false}, "axis": {"orient": "bottom", "values": [0, 20, 40, 60], "title": null, "labels": false}}, "y": {"field": "e", "type": "quantitative"}, "order": {"field": "e", "sort": "descending"}}},
      {"data": {"name": "wt"}, "transform": [{"filter": "datum.p == 'C'"}],
       "mark": {"type": "text", "font": "Liberation Sans", "fontWeight": "bold", "fontSize": 15, "align": "left", "baseline": "alphabetic", "color": "black"}, "encoding": {"text": {"field": "lab"}, "x": {"datum": 1.4, "type": "quantitative", "axis": null}, "y": {"datum": 0.405, "type": "quantitative"}}}
     ]},
    {"width": 128, "height": 173, "resolve": {"axis": {"x": "independent"}},
     "layer": [
      {"data": {"name": "wt"}, "transform": [{"filter": "datum.p == 'D'"}], "layer": [
        {"mark": {"type": "rect", "fill": "#e6e6e6", "clip": true}, "encoding": {"y": {"field": "gs", "type": "quantitative", "scale": {"domain": [-1.575, 0.72], "nice": false, "zero": false}, "axis": {"values": [0.5, 0, -0.5, -1, -1.5], "title": null, "labels": false}}, "y2": {"datum": -3}}},
        {"mark": {"type": "rule", "stroke": "#8c8c8c", "strokeWidth": 1}, "encoding": {"y": {"field": "gs", "type": "quantitative"}}},
        {"mark": {"type": "rule", "stroke": "#0000ff", "strokeWidth": 2, "strokeDash": [7, 3]}, "encoding": {"y": {"field": "hi", "type": "quantitative"}}},
        {"mark": {"type": "rule", "stroke": "#0000ff", "strokeWidth": 2, "strokeDash": [7, 3]}, "encoding": {"y": {"field": "lo", "type": "quantitative"}}},
        {"mark": {"type": "rule", "stroke": "#0000ff", "strokeWidth": 3.5}, "encoding": {"y": {"field": "wt", "type": "quantitative"}}}
      ]},
      {"data": {"name": "bot"}, "transform": [{"filter": "datum.p == 'D' && datum.v == 'Fe'"}],
       "mark": {"type": "line", "color": "black", "strokeWidth": 1.5, "point": {"shape": "M1,0L-1,-0.85L-1,0.85Z", "filled": true, "size": 240, "fill": "black", "stroke": "white", "strokeWidth": 0.8, "opacity": 1}},
       "encoding": {"x": {"field": "x", "type": "quantitative", "scale": {"domain": [0, 65], "nice": false, "zero": false}, "axis": {"orient": "top", "values": [0, 20, 40, 60], "title": null, "labelPadding": 7}}, "y": {"field": "e", "type": "quantitative"}, "order": {"field": "e", "sort": "descending"}}},
      {"data": {"name": "bot"}, "transform": [{"filter": "datum.p == 'D' && datum.v == 'SO4'"}],
       "mark": {"type": "line", "color": "#222222", "strokeWidth": 1, "point": {"filled": true, "size": 100, "fill": "white", "stroke": "#222222", "strokeWidth": 1, "opacity": 1}},
       "encoding": {"x": {"field": "x", "type": "quantitative", "scale": {"domain": [0, 65], "nice": false, "zero": false}, "axis": {"orient": "bottom", "values": [0, 20, 40, 60], "title": null, "labels": false}}, "y": {"field": "e", "type": "quantitative"}, "order": {"field": "e", "sort": "descending"}}},
      {"data": {"name": "wt"}, "transform": [{"filter": "datum.p == 'D'"}],
       "mark": {"type": "text", "font": "Liberation Sans", "fontWeight": "bold", "fontSize": 15, "align": "left", "baseline": "alphabetic", "color": "black"}, "encoding": {"text": {"field": "lab"}, "x": {"datum": 1.4, "type": "quantitative", "axis": null}, "y": {"datum": 0.405, "type": "quantitative"}}}
     ]},
    {"width": 128, "height": 173, "resolve": {"axis": {"x": "independent"}},
     "layer": [
      {"data": {"name": "wt"}, "transform": [{"filter": "datum.p == 'E'"}], "layer": [
        {"mark": {"type": "rect", "fill": "#e6e6e6", "clip": true}, "encoding": {"y": {"field": "gs", "type": "quantitative", "scale": {"domain": [-1.575, 0.72], "nice": false, "zero": false}, "axis": {"values": [0.5, 0, -0.5, -1, -1.5], "title": null, "labels": false}}, "y2": {"datum": -3}}},
        {"mark": {"type": "rule", "stroke": "#8c8c8c", "strokeWidth": 1}, "encoding": {"y": {"field": "gs", "type": "quantitative"}}},
        {"mark": {"type": "rule", "stroke": "#0000ff", "strokeWidth": 2, "strokeDash": [7, 3]}, "encoding": {"y": {"field": "hi", "type": "quantitative"}}},
        {"mark": {"type": "rule", "stroke": "#0000ff", "strokeWidth": 2, "strokeDash": [7, 3]}, "encoding": {"y": {"field": "lo", "type": "quantitative"}}},
        {"mark": {"type": "rule", "stroke": "#0000ff", "strokeWidth": 3.5}, "encoding": {"y": {"field": "wt", "type": "quantitative"}}}
      ]},
      {"data": {"name": "bot"}, "transform": [{"filter": "datum.p == 'E' && datum.v == 'Fe'"}],
       "mark": {"type": "line", "color": "black", "strokeWidth": 1.5, "point": {"shape": "M1,0L-1,-0.85L-1,0.85Z", "filled": true, "size": 240, "fill": "black", "stroke": "white", "strokeWidth": 0.8, "opacity": 1}},
       "encoding": {"x": {"field": "x", "type": "quantitative", "scale": {"domain": [0, 65], "nice": false, "zero": false}, "axis": {"orient": "top", "values": [0, 20, 40, 60], "title": null, "labelPadding": 7}}, "y": {"field": "e", "type": "quantitative"}, "order": {"field": "e", "sort": "descending"}}},
      {"data": {"name": "bot"}, "transform": [{"filter": "datum.p == 'E' && datum.v == 'SO4'"}],
       "mark": {"type": "line", "color": "#222222", "strokeWidth": 1, "point": {"filled": true, "size": 100, "fill": "white", "stroke": "#222222", "strokeWidth": 1, "opacity": 1}},
       "encoding": {"x": {"field": "x", "type": "quantitative", "scale": {"domain": [0, 65], "nice": false, "zero": false}, "axis": {"orient": "bottom", "values": [0, 20, 40, 60], "title": null, "labels": false}}, "y": {"field": "e", "type": "quantitative"}, "order": {"field": "e", "sort": "descending"}}},
      {"data": {"name": "wt"}, "transform": [{"filter": "datum.p == 'E'"}],
       "mark": {"type": "text", "font": "Liberation Sans", "fontWeight": "bold", "fontSize": 15, "align": "left", "baseline": "alphabetic", "color": "black"}, "encoding": {"text": {"field": "lab"}, "x": {"datum": 1.4, "type": "quantitative", "axis": null}, "y": {"datum": 0.405, "type": "quantitative"}}}
     ]}
  ]}
]
}
